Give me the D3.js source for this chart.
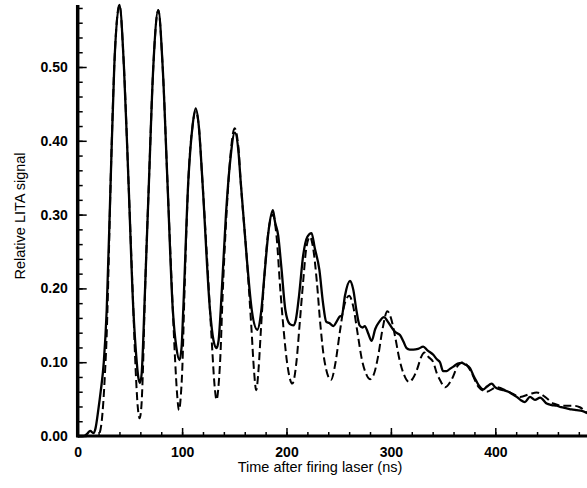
<!DOCTYPE html>
<html>
<head>
<meta charset="utf-8">
<script src="https://cdn.jsdelivr.net/npm/d3@7"></script>
<style>
  html, body { margin: 0; padding: 0; background: #fff; }
  svg { display: block; }
</style>
</head>
<body>
<div id="chart"></div>
<script>
// Measured signal (solid), [time ns, relative signal]
const measured = [
  [0, 0], [6, 0], [9, 0.003], [12, 0.007], [15, 0.004], [17, 0.01], [19.7, 0.035],
  [22, 0.06], [25, 0.1], [27.8, 0.171], [31.6, 0.347], [35, 0.5], [40, 0.584],
  [44.3, 0.5], [48.6, 0.347], [53.3, 0.171], [56, 0.11], [58, 0.08], [59.7, 0.072],
  [61.3, 0.085], [62.5, 0.12], [63.8, 0.171], [68.3, 0.347], [72.4, 0.5], [77.2, 0.577],
  [81.4, 0.5], [85.9, 0.347], [91.1, 0.171], [94.5, 0.12], [97.5, 0.103], [99.5, 0.12],
  [101.1, 0.171], [106, 0.347], [110, 0.42], [113, 0.444], [116, 0.42], [119.4, 0.347],
  [126.7, 0.171], [130, 0.13], [133, 0.119], [135, 0.13], [137, 0.171], [142, 0.3],
  [145.9, 0.37], [150.5, 0.411], [154, 0.385], [156, 0.347], [162, 0.24], [166.7, 0.171],
  [172, 0.144], [175.7, 0.168], [179, 0.22], [183, 0.28], [187, 0.306], [189, 0.29],
  [192, 0.272], [195, 0.23], [199, 0.17], [203, 0.152], [206.5, 0.15], [209, 0.158],
  [212, 0.19], [216, 0.245], [220, 0.27], [224, 0.275], [227, 0.255], [231.5, 0.225],
  [235, 0.18], [238, 0.155], [241, 0.153], [245, 0.149], [248, 0.155], [251, 0.162],
  [253, 0.163], [256, 0.19], [260.8, 0.21], [264, 0.198], [267, 0.17], [270, 0.15],
  [273, 0.147], [275, 0.149], [278, 0.14], [281.6, 0.129], [285, 0.145], [289, 0.155],
  [293.4, 0.161], [297, 0.155], [302.3, 0.144], [305, 0.14], [308.7, 0.137], [312, 0.128],
  [315, 0.119], [318, 0.117], [321.5, 0.117], [326, 0.118], [331, 0.121], [335, 0.116],
  [340.6, 0.11], [344, 0.104], [347, 0.1], [350, 0.088], [353.4, 0.088], [356.5, 0.091],
  [359.8, 0.094], [364, 0.098], [367.8, 0.099], [371, 0.097], [375.8, 0.092], [379, 0.082],
  [382, 0.074], [385, 0.067], [388.5, 0.063], [392, 0.067], [396.5, 0.071], [400, 0.066],
  [404.5, 0.063], [408, 0.062], [412.5, 0.06], [416, 0.057], [420.5, 0.053], [424, 0.049],
  [428.4, 0.046], [433.2, 0.053], [438, 0.049], [443, 0.052], [449.2, 0.044], [454, 0.042],
  [458.8, 0.041], [463, 0.039], [468.4, 0.0375], [473, 0.036], [478, 0.035], [483, 0.034],
  [488, 0.031]
];

// Model signal (dashed)
const model = [
  [0, 0], [19, 0], [21, 0.004], [23, 0.02], [24.5, 0.045], [26.3, 0.09], [27.6, 0.13],
  [28.5, 0.171], [31.6, 0.347], [35, 0.5], [40, 0.584], [44.3, 0.5], [48.6, 0.347],
  [53.3, 0.171], [55.5, 0.09], [57.5, 0.04], [59.3, 0.024], [61, 0.04], [62.5, 0.09],
  [64, 0.171], [68.3, 0.347], [72.4, 0.5], [77.2, 0.577], [81.4, 0.5], [85.9, 0.347],
  [91.1, 0.171], [93.3, 0.103], [95.3, 0.055], [97, 0.035], [98.8, 0.055], [100.5, 0.103],
  [101.8, 0.171], [106, 0.347], [110, 0.42], [113, 0.44], [116, 0.42], [119.4, 0.347],
  [126.7, 0.171], [128.8, 0.119], [131, 0.07], [133, 0.049], [135, 0.07], [137, 0.119],
  [138.3, 0.171], [142.5, 0.3], [146, 0.375], [150.3, 0.417], [154, 0.39], [156, 0.347],
  [162, 0.24], [166.5, 0.144], [168.8, 0.09], [171, 0.062], [173.2, 0.09], [175.5, 0.144],
  [178, 0.2], [182, 0.27], [187, 0.3], [190.5, 0.27], [194, 0.2], [197.5, 0.14],
  [200.5, 0.1], [205.6, 0.071], [209.5, 0.1], [212.5, 0.15], [216, 0.21], [219, 0.255],
  [222.5, 0.27], [226, 0.25], [229, 0.21], [232.5, 0.15], [236, 0.105], [242.6, 0.076],
  [247, 0.1], [251, 0.14], [255, 0.175], [260, 0.19], [264, 0.175], [268, 0.14],
  [272, 0.105], [276, 0.085], [280, 0.077], [284, 0.085], [288, 0.11], [292, 0.145],
  [296.6, 0.169], [300, 0.16], [304, 0.135], [308, 0.105], [312, 0.085], [317.6, 0.073],
  [321, 0.078], [325, 0.09], [329, 0.107], [332, 0.113], [336, 0.107], [340.6, 0.1],
  [344, 0.085], [347, 0.076], [352, 0.066], [358, 0.076], [364.5, 0.096], [369.3, 0.1],
  [376, 0.089], [383.7, 0.067], [391.7, 0.06], [401.3, 0.066], [411, 0.061], [417, 0.057],
  [423.7, 0.053], [433.2, 0.057], [439.7, 0.059], [447.6, 0.053], [455.6, 0.044],
  [465, 0.041], [474.7, 0.041], [481, 0.039], [488, 0.031]
];

const xMajorTicks = [0, 100, 200, 300, 400];
const xMinorTicks = d3.range(0, 481, 20);
const yMajorTicks = [0, 0.1, 0.2, 0.3, 0.4, 0.5];
const yMinorTicks = d3.range(0, 0.581, 0.02);
const xTitle = "Time after firing laser (ns)";
const yTitle = "Relative LITA signal";

(function () {
  // Dimensions
  const width = 587;
  const height = 488;
  const x0 = 77.7;
  const y0 = 436;

  const font = "'Liberation Sans', Arial, Helvetica, sans-serif";

  const x = d3.scaleLinear([0, 488], [x0, x0 + 488 * 1.044]);
  const y = d3.scaleLinear([0, 0.59], [y0, y0 - 0.59 * 738]);

  const svg = d3
    .select("#chart")
    .append("svg")
    .attr("width", width)
    .attr("height", height)
    .attr("viewBox", [0, 0, width, height]);

  // Curves
  const line = d3
    .line()
    .x((d) => x(d[0]))
    .y((d) => y(d[1]))
    .curve(d3.curveMonotoneX);

  svg
    .append("path")
    .datum(model)
    .attr("fill", "none")
    .attr("stroke", "#000")
    .attr("stroke-width", 2)
    .attr("stroke-dasharray", "8,4")
    .attr("d", line);

  svg
    .append("path")
    .datum(measured)
    .attr("fill", "none")
    .attr("stroke", "#000")
    .attr("stroke-width", 2.3)
    .attr("stroke-linejoin", "round")
    .attr("d", line);

  // Axes: minor ticks, then major ticks with labels
  const gx = svg.append("g").attr("transform", `translate(0,${y0})`);
  gx.append("g")
    .call(d3.axisBottom(x).tickValues(xMinorTicks).tickSize(-4).tickFormat(""))
    .call((g) => g.select(".domain").remove());
  gx.append("g")
    .call(
      d3.axisBottom(x)
        .tickValues(xMajorTicks)
        .tickSize(-8)
        .tickPadding(11)
        .tickFormat(d3.format("d"))
    )
    .call((g) => g.select(".domain").remove());

  const gy = svg.append("g").attr("transform", `translate(${x0},0)`);
  gy.append("g")
    .call(d3.axisLeft(y).tickValues(yMinorTicks).tickSize(-5).tickFormat(""))
    .call((g) => g.select(".domain").remove());
  gy.append("g")
    .call(
      d3.axisLeft(y)
        .tickValues(yMajorTicks)
        .tickSize(-9)
        .tickPadding(10)
        .tickFormat(d3.format(".2f"))
    )
    .call((g) => g.select(".domain").remove());

  svg.selectAll(".tick line").attr("stroke", "#000").attr("stroke-width", 1.5);
  svg
    .selectAll(".tick text")
    .attr("fill", "#000")
    .style("font-family", font)
    .style("font-size", "14px")
    .style("font-weight", "bold");

  // Axis lines
  svg
    .append("line")
    .attr("x1", x0)
    .attr("x2", width)
    .attr("y1", y0)
    .attr("y2", y0)
    .attr("stroke", "#000")
    .attr("stroke-width", 3);
  svg
    .append("line")
    .attr("x1", x0)
    .attr("x2", x0)
    .attr("y1", y0 + 1.5)
    .attr("y2", y(0.584))
    .attr("stroke", "#000")
    .attr("stroke-width", 3.5);

  // Titles
  svg
    .append("text")
    .attr("x", 320)
    .attr("y", 472)
    .attr("text-anchor", "middle")
    .style("font-family", font)
    .style("font-size", "14.5px")
    .text(xTitle);

  svg
    .append("text")
    .attr("transform", `translate(25,216) rotate(-90)`)
    .attr("text-anchor", "middle")
    .style("font-family", font)
    .style("font-size", "14.5px")
    .text(yTitle);
})();
</script>
</body>
</html>
